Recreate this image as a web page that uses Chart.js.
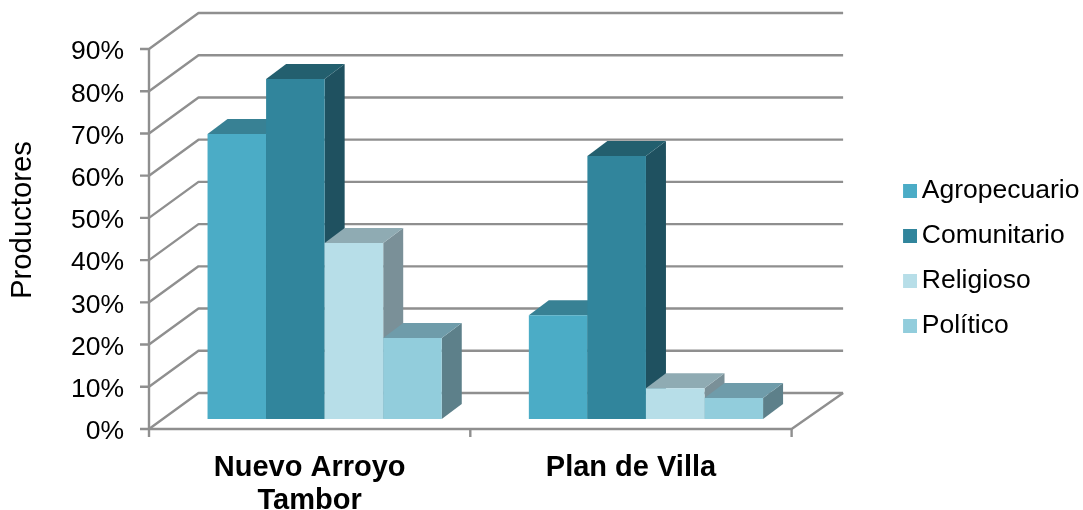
<!DOCTYPE html>
<html><head><meta charset="utf-8">
<style>html,body{margin:0;padding:0;background:#fff;overflow:hidden}canvas{display:block}</style>
<script src="https://cdn.jsdelivr.net/npm/chart.js@4"></script>
</head><body><canvas id="c" width="1083" height="510"></canvas>
<script>
const categories = [["Nuevo Arroyo","Tambor"],"Plan de Villa"];
const agropecuario = [67.5,24.6];
const comunitario = [80.5,62.3];
const religioso = [41.7,7.3];
const politico = [19.2,5.0];
const seriesNames = ["Agropecuario","Comunitario","Religioso","Político"];
const frontColors = ["#4BACC6","#31859C","#B7DEE8","#92CDDC"];
const topColors = ["#388194","#235F6E","#8FABB3","#6F9CAA"];
const sideColors = ["#2F6F80","#1F5160","#7A9098","#5D808A"];
const GRID = "#8F8F8F";
const wall = {dx:49.5,dy:-36};      // depth of the chart box
const inset = {dx:15,dy:-10};       // bars sit inside the floor
const depth = {dx:20,dy:-15};       // depth of each bar
const LEGEND_LEFT = 890, LEGEND_SHIFT = -21.5;
const TITLE_SHIFT = {x:-0.5,y:-19};

const poly = (ctx,pts,fill)=>{ctx.beginPath();pts.forEach((p,i)=>i?ctx.lineTo(p[0],p[1]):ctx.moveTo(p[0],p[1]));ctx.closePath();ctx.fillStyle=fill;ctx.fill();};

// legend swatch: a 14px square, pushed to the right side of its image
const swatch = color=>{
  const c=document.createElement("canvas");c.width=17;c.height=14;
  const g=c.getContext("2d");g.fillStyle=color;g.fillRect(3,0,14,14);
  return c;
};

const box3d = {
  id:"box3d",
  afterLayout(chart){
    const l=chart.legend;
    const d=LEGEND_LEFT-l.left;
    l.left+=d;l.right+=d;l.top+=LEGEND_SHIFT;l.bottom+=LEGEND_SHIFT;
    const s=chart.scales.y;
    if(!s._titleShifted){
      const orig=s.drawTitle;
      s.drawTitle=function(){chart.ctx.save();chart.ctx.translate(TITLE_SHIFT.x,TITLE_SHIFT.y);orig.call(this);chart.ctx.restore();};
      s._titleShifted=true;
    }
  },
  beforeDatasetsDraw(chart){
    const {ctx,chartArea:a,scales:{x,y}} = chart;
    ctx.save();
    ctx.strokeStyle=GRID;ctx.lineWidth=2.4;ctx.lineJoin="round";
    y.ticks.forEach(t=>{
      const py=y.getPixelForValue(t.value);
      ctx.beginPath();
      ctx.moveTo(a.left-9,py);ctx.lineTo(a.left,py);
      ctx.lineTo(a.left+wall.dx,py+wall.dy);
      ctx.lineTo(a.right+wall.dx+2,py+wall.dy);
      ctx.stroke();
    });
    ctx.beginPath();
    ctx.moveTo(a.left,a.bottom);ctx.lineTo(a.right,a.bottom);
    ctx.lineTo(a.right+wall.dx+2,a.bottom+wall.dy);
    ctx.stroke();
    ctx.beginPath();ctx.moveTo(a.left,a.top);ctx.lineTo(a.left,a.bottom);ctx.stroke();
    const n=categories.length;
    for(let i=0;i<=n;i++){
      const px=x.getPixelForValue(i-0.5);
      ctx.beginPath();ctx.moveTo(px,a.bottom);ctx.lineTo(px,a.bottom+8);ctx.stroke();
    }
    ctx.restore();
  },
  beforeDatasetDraw(){return false;},
  afterDatasetsDraw(chart){
    const ctx=chart.ctx;
    chart.data.datasets.forEach((ds,i)=>{
      const meta=chart.getDatasetMeta(i);
      ctx.save();
      ctx.translate(inset.dx,inset.dy);
      meta.data.forEach(b=>{
        const l=b.x-b.width/2,r=b.x+b.width/2,t=b.y,base=b.base;
        poly(ctx,[[r,t],[r+depth.dx,t+depth.dy],[r+depth.dx,base+depth.dy],[r,base]],sideColors[i]);
        poly(ctx,[[l,t],[l+depth.dx,t+depth.dy],[r+depth.dx,t+depth.dy],[r,t]],topColors[i]);
      });
      meta.controller.draw();
      ctx.restore();
    });
  }
};

const values=[agropecuario,comunitario,religioso,politico];
new Chart(document.getElementById("c"),{
  type:"bar",
  data:{labels:categories,datasets:seriesNames.map((n,i)=>({
    label:n,data:values[i],backgroundColor:frontColors[i],
    categoryPercentage:0.729,barPercentage:1,borderWidth:0
  }))},
  plugins:[box3d],
  options:{
    responsive:false,animation:false,devicePixelRatio:1,
    layout:{padding:{top:49,right:92,bottom:0,left:0}},
    plugins:{
      tooltip:{enabled:false},
      legend:{position:"right",align:"center",
        labels:{usePointStyle:true,boxWidth:0.01,boxHeight:14,padding:18.5,color:"#000",font:{family:"Liberation Sans",size:26.5},
          generateLabels(chart){
            return Chart.defaults.plugins.legend.labels.generateLabels(chart).map((it,i)=>({...it,pointStyle:swatch(frontColors[i])}));
          }}}
    },
    scales:{
      x:{grid:{display:false},border:{display:false},
        afterFit(s){s.height=81;},
        ticks:{color:"#000",padding:14,maxRotation:0,font:{family:"Liberation Sans",size:29,weight:"bold",lineHeight:1.14}}},
      y:{min:0,max:90,grid:{display:false},border:{display:false},
        afterFit(s){s.width=149;},
        ticks:{stepSize:10,color:"#000",padding:17,labelOffset:3,callback:v=>v+"%",font:{family:"Liberation Sans",size:26.5}},
        title:{display:true,text:"Productores",color:"#000",padding:{top:6,bottom:0},font:{family:"Liberation Sans",size:29.3,weight:"normal"}}}
    }
  }
});
</script></body></html>
